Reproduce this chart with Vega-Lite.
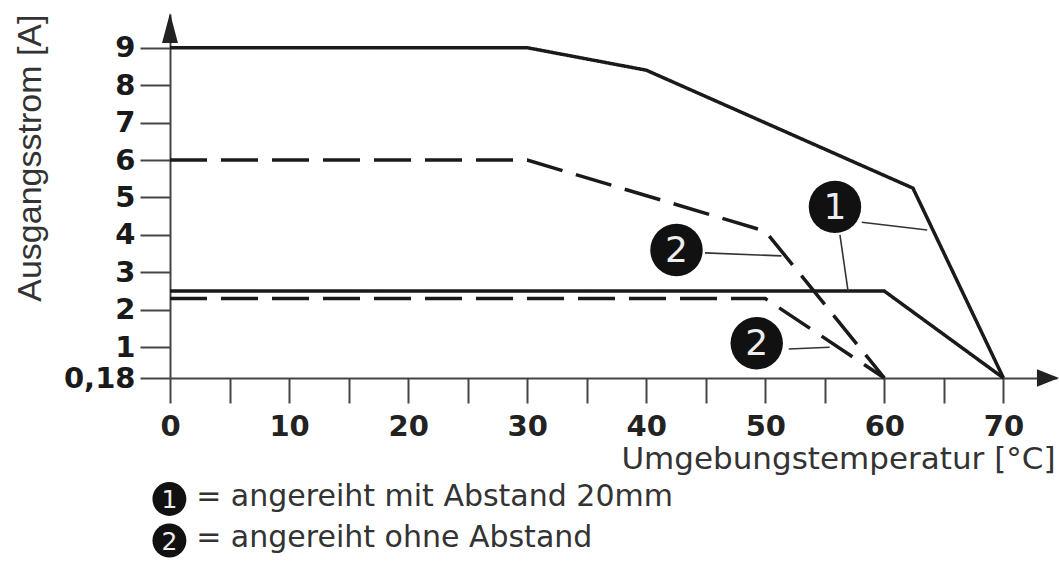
{
  "$schema": "https://vega.github.io/schema/vega-lite/v6.json",
  "width": 887,
  "height": 364,
  "autosize": {"type": "none"},
  "padding": {"left": 170, "top": 14, "right": 2, "bottom": 185},
  "background": "white",
  "config": {"view": {"stroke": null}, "font": "DejaVu Sans"},
  "datasets": {
    "kurven": [
      {"kurve": "1 oben", "gruppe": "1", "temp": 0, "strom": 9},
      {"kurve": "1 oben", "gruppe": "1", "temp": 30, "strom": 9},
      {"kurve": "1 oben", "gruppe": "1", "temp": 40, "strom": 8.4},
      {"kurve": "1 oben", "gruppe": "1", "temp": 62.4, "strom": 5.25},
      {"kurve": "1 oben", "gruppe": "1", "temp": 70, "strom": 0.18},
      {"kurve": "1 unten", "gruppe": "1", "temp": 0, "strom": 2.5},
      {"kurve": "1 unten", "gruppe": "1", "temp": 60, "strom": 2.5},
      {"kurve": "1 unten", "gruppe": "1", "temp": 70, "strom": 0.18},
      {"kurve": "2 oben", "gruppe": "2", "temp": 0, "strom": 6},
      {"kurve": "2 oben", "gruppe": "2", "temp": 30, "strom": 6},
      {"kurve": "2 oben", "gruppe": "2", "temp": 50, "strom": 4.1},
      {"kurve": "2 oben", "gruppe": "2", "temp": 60, "strom": 0.18},
      {"kurve": "2 unten", "gruppe": "2", "temp": 0, "strom": 2.3},
      {"kurve": "2 unten", "gruppe": "2", "temp": 50, "strom": 2.3},
      {"kurve": "2 unten", "gruppe": "2", "temp": 60, "strom": 0.18}
    ],
    "hinweise": [
      {"nr": "1", "temp": 58.1, "strom": 4.34, "temp2": 63.6, "strom2": 4.13},
      {"nr": "1", "temp": 56.27, "strom": 4.0, "temp2": 56.95, "strom2": 2.5},
      {"nr": "2", "temp": 44.93, "strom": 3.52, "temp2": 51.36, "strom2": 3.44},
      {"nr": "2", "temp": 51.97, "strom": 0.955, "temp2": 55.41, "strom2": 1.0}
    ],
    "marken": [
      {"nr": "1", "temp": 55.85, "strom": 4.75},
      {"nr": "2", "temp": 42.54, "strom": 3.6},
      {"nr": "2", "temp": 49.28, "strom": 1.11}
    ],
    "legende": [
      {"nr": "1", "temp": -0.05, "strom": -3.05, "textpos": 2.2, "textzeile": -3.25, "text": "= angereiht mit Abstand 20mm"},
      {"nr": "2", "temp": -0.05, "strom": -4.16, "textpos": 2.2, "textzeile": -4.33, "text": "= angereiht ohne Abstand"}
    ]
  },
  "layer": [
    {
      "data": {"name": "kurven"},
      "mark": {"type": "line", "color": "#1a1a1a", "strokeWidth": 3.5, "strokeJoin": "miter"},
      "encoding": {
        "x": {
          "field": "temp",
          "type": "quantitative",
          "scale": {"domain": [0, 74.5], "nice": false, "zero": false},
          "axis": {
            "values": [0, 5, 10, 15, 20, 25, 30, 35, 40, 45, 50, 55, 60, 65, 70],
            "labelExpr": "datum.value % 10 === 0 ? format(datum.value, 'd') : ''",
            "grid": false,
            "domainColor": "#444444",
            "domainWidth": 2,
            "tickColor": "#444444",
            "tickWidth": 2,
            "tickSize": 25,
            "labelFont": "DejaVu Sans",
            "labelFontWeight": "bold",
            "labelFontSize": 29,
            "labelColor": "#222222",
            "labelPadding": 9,
            "labelFlush": false,
            "labelOverlap": false,
            "title": "Umgebungstemperatur [°C]",
            "titleFont": "DejaVu Sans",
            "titleFontWeight": "normal",
            "titleFontSize": 31,
            "titleColor": "#333333",
            "titleAnchor": null,
            "titleAlign": "right",
            "titleBaseline": "alphabetic",
            "titleX": 885,
            "titleY": 90
          }
        },
        "y": {
          "field": "strom",
          "type": "quantitative",
          "scale": {"domain": [0.18, 9.9], "nice": false, "zero": false},
          "axis": {
            "values": [0.18, 1, 2, 3, 4, 5, 6, 7, 8, 9],
            "labelExpr": "datum.value == 0.18 ? '0,18' : format(datum.value, 'd')",
            "grid": false,
            "domainColor": "#444444",
            "domainWidth": 2,
            "tickColor": "#444444",
            "tickWidth": 2,
            "tickSize": 30,
            "labelFont": "DejaVu Sans",
            "labelFontWeight": "bold",
            "labelFontSize": 29,
            "labelColor": "#1a1a1a",
            "labelPadding": 5,
            "labelFlush": false,
            "labelOverlap": false,
            "title": "Ausgangsstrom [A]",
            "titleFont": "Liberation Sans",
            "titleFontWeight": "normal",
            "titleFontSize": 34,
            "titleColor": "#333333",
            "titleAngle": -90,
            "titleAnchor": null,
            "titleAlign": "right",
            "titleBaseline": "alphabetic",
            "titleX": -130,
            "titleY": 0
          }
        },
        "detail": {"field": "kurve", "type": "nominal"},
        "strokeDash": {
          "field": "gruppe",
          "type": "nominal",
          "scale": {"domain": ["1", "2"], "range": [[1, 0], [37, 14]]},
          "legend": null
        }
      }
    },
    {
      "data": {"name": "hinweise"},
      "mark": {"type": "rule", "color": "#333333", "strokeWidth": 1.6},
      "encoding": {
        "x": {"field": "temp", "type": "quantitative"},
        "y": {"field": "strom", "type": "quantitative"},
        "x2": {"field": "temp2"},
        "y2": {"field": "strom2"}
      }
    },
    {
      "data": {"name": "marken"},
      "mark": {"type": "point", "shape": "circle", "filled": true, "color": "#111111", "opacity": 1, "size": 2750},
      "encoding": {
        "x": {"field": "temp", "type": "quantitative"},
        "y": {"field": "strom", "type": "quantitative"}
      }
    },
    {
      "data": {"name": "marken"},
      "mark": {"type": "text", "color": "#eeeeee", "font": "DejaVu Sans", "fontSize": 36, "align": "center", "baseline": "middle", "dy": 1},
      "encoding": {
        "x": {"field": "temp", "type": "quantitative"},
        "y": {"field": "strom", "type": "quantitative"},
        "text": {"field": "nr"}
      }
    },
    {
      "data": {"name": "legende"},
      "mark": {"type": "point", "shape": "circle", "filled": true, "color": "#111111", "opacity": 1, "size": 1150, "clip": false},
      "encoding": {
        "x": {"field": "temp", "type": "quantitative"},
        "y": {"field": "strom", "type": "quantitative"}
      }
    },
    {
      "data": {"name": "legende"},
      "mark": {"type": "text", "color": "#eeeeee", "font": "DejaVu Sans", "fontSize": 25, "align": "center", "baseline": "middle", "dy": 1, "clip": false},
      "encoding": {
        "x": {"field": "temp", "type": "quantitative"},
        "y": {"field": "strom", "type": "quantitative"},
        "text": {"field": "nr"}
      }
    },
    {
      "data": {"name": "legende"},
      "mark": {"type": "text", "color": "#333333", "font": "DejaVu Sans", "fontSize": 30, "align": "left", "baseline": "alphabetic", "clip": false},
      "encoding": {
        "x": {"field": "textpos", "type": "quantitative"},
        "y": {"field": "textzeile", "type": "quantitative"},
        "text": {"field": "text"}
      }
    },
    {
      "data": {"values": [{}]},
      "mark": {"type": "point", "shape": "M0,-1L0.53,1L-0.53,1Z", "filled": true, "color": "#222222", "opacity": 1, "size": 900},
      "encoding": {
        "x": {"datum": 0, "type": "quantitative"},
        "y": {"datum": 9.526, "type": "quantitative"}
      }
    },
    {
      "data": {"values": [{}]},
      "mark": {"type": "point", "shape": "M1,0L-1,-0.8L-1,0.8Z", "filled": true, "color": "#222222", "opacity": 1, "size": 484},
      "encoding": {
        "x": {"datum": 73.74, "type": "quantitative"},
        "y": {"datum": 0.18, "type": "quantitative"}
      }
    }
  ]
}
